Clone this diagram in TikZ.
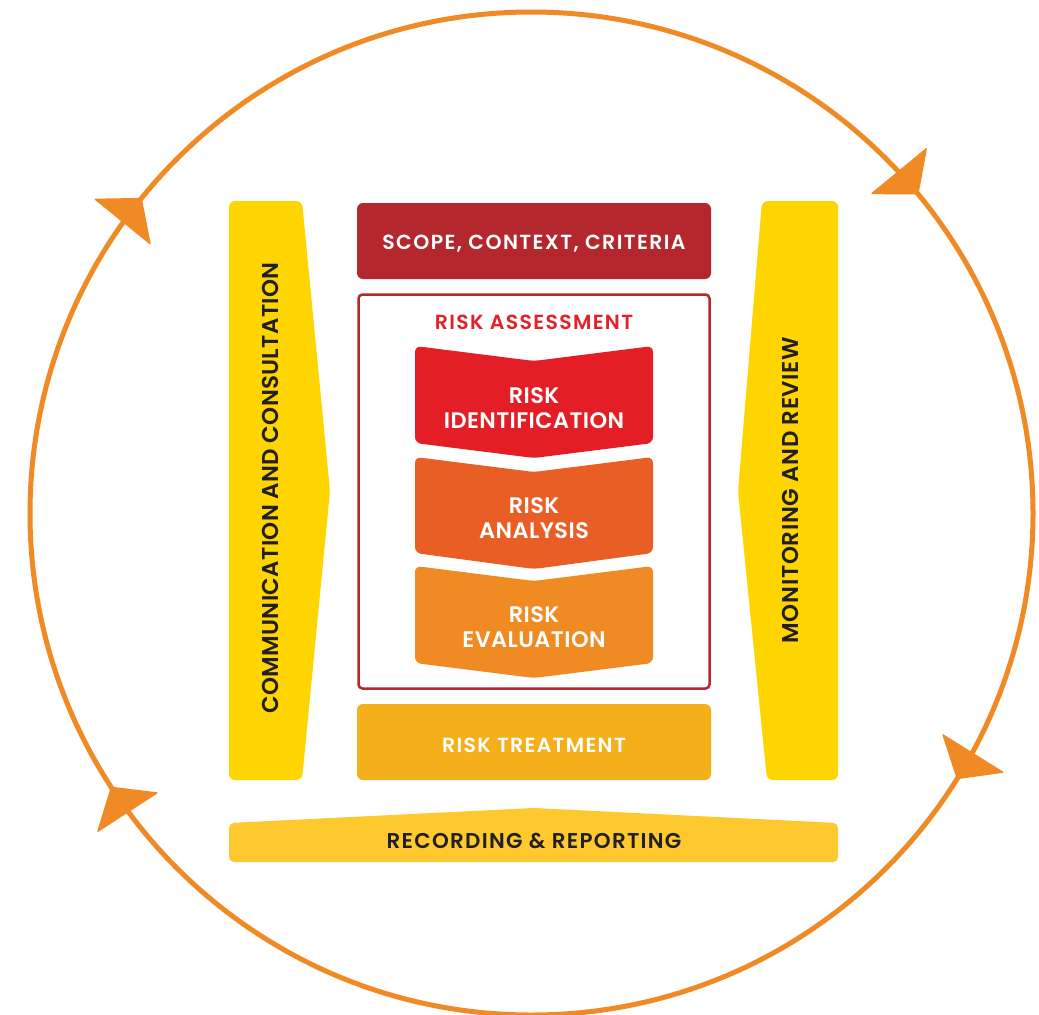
\documentclass[tikz,border=0pt]{standalone}
\usepackage{fontspec}
\setmainfont{Poppins}[BoldFont={Poppins SemiBold}]
\usetikzlibrary{calc}

\definecolor{ringorange}{HTML}{F08A24}
\definecolor{baryellow}{HTML}{FFD500}
\definecolor{scopered}{HTML}{B3272D}
\definecolor{assessred}{HTML}{E3212B}
\definecolor{identred}{HTML}{E31E26}
\definecolor{analysisorange}{HTML}{E85E24}
\definecolor{evalorange}{HTML}{F08A23}
\definecolor{treatamber}{HTML}{F5AF1B}
\definecolor{recordyellow}{HTML}{FDC92F}
\definecolor{textdark}{HTML}{231F20}

\newcommand{\labelfont}[2]{\bfseries\fontsize{#1}{#1}\selectfont\addfontfeature{LetterSpace=#2}}

\tikzset{
  shapefill/.style={rounded corners=6bp},
  bartext/.style={inner sep=0pt, text=textdark},
  boxtext/.style={inner sep=0pt, text=white},
  chevtext/.style={inner sep=0pt, text=white, align=center,
    font={\bfseries\fontsize{22.5}{25.5}\selectfont\addfontfeature{LetterSpace=2}}},
}

\begin{document}
\begin{tikzpicture}[x=1bp,y=-1bp]
\useasboundingbox (0,0) rectangle (1039,1015);
\fill[white] (0,0) rectangle (1039,1015);

% outer cycle ring with clockwise arrowheads
\draw[ringorange, line width=5bp] (531.5,513.5) circle[radius=501.5];
\foreach \a in {141,39.5,-32,-147}{
  \pgfmathsetmacro\rx{cos(\a)}
  \pgfmathsetmacro\ry{-sin(\a)}
  \pgfmathsetmacro\tx{531.5+501.5*\rx}
  \pgfmathsetmacro\ty{513.5+501.5*\ry}
  \fill[ringorange, rounded corners=1.5bp] (\tx,\ty)
     -- ++({31*\ry+37*\rx},{-31*\rx+37*\ry})
     -- ++({-74*\rx},{-74*\ry})
     -- cycle;
}

% side bars
\fill[baryellow, shapefill] (229,201) -- (302,201) -- (330,491) -- (302,780) -- (229,780) -- cycle;
\fill[baryellow, shapefill] (762,201) -- (838,201) -- (838,780) -- (767,780) -- (738,491) -- cycle;

% scope box
\fill[scopered, shapefill] (357,203) rectangle (711,279);

% risk assessment frame
\draw[scopered, line width=2.5bp, rounded corners=4bp] (358.5,294.5) rectangle (709.5,688.5);

% chevrons
\fill[identred, shapefill] (415,346) -- (534,361) -- (653,346) -- (653,443) -- (534,458) -- (415,443) -- cycle;
\fill[analysisorange, shapefill] (415,457) -- (534,472) -- (653,457) -- (653,553) -- (534,569) -- (415,553) -- cycle;
\fill[evalorange, shapefill] (415,566) -- (534,581) -- (653,566) -- (653,663) -- (534,678) -- (415,663) -- cycle;

% treatment box
\fill[treatamber, shapefill] (357,704) rectangle (711,780);

% recording bar
\fill[recordyellow, rounded corners=5bp] (229,823) -- (534,808) -- (838,823) -- (838,862) -- (229,862) -- cycle;

% labels
\node[boxtext, font=\labelfont{20.5}{7}] (scope) at (534,244) {SCOPE, CONTEXT, CRITERIA};
\node[boxtext, text=assessred, font=\labelfont{20.5}{6.5}] (assess) at (534,322) {RISK ASSESSMENT};
\node[chevtext] (ident) at (534,408) {RISK\\IDENTIFICATION};
\node[chevtext] (analysis) at (534,518) {RISK\\ANALYSIS};
\node[chevtext] (evaluation) at (534,627) {RISK\\EVALUATION};
\node[boxtext, font=\labelfont{20.5}{6.5}] (treat) at (534,745) {RISK TREATMENT};
\node[bartext, font=\labelfont{21.5}{6}] (record) at (534,841) {RECORDING \& REPORTING};
\node[bartext, rotate=90, font=\labelfont{23}{1.5}] (comm) at (270,488) {COMMUNICATION AND CONSULTATION};
\node[bartext, rotate=90, font=\labelfont{23}{3}] (monitor) at (790,490) {MONITORING AND REVIEW};
\end{tikzpicture}
\end{document}
